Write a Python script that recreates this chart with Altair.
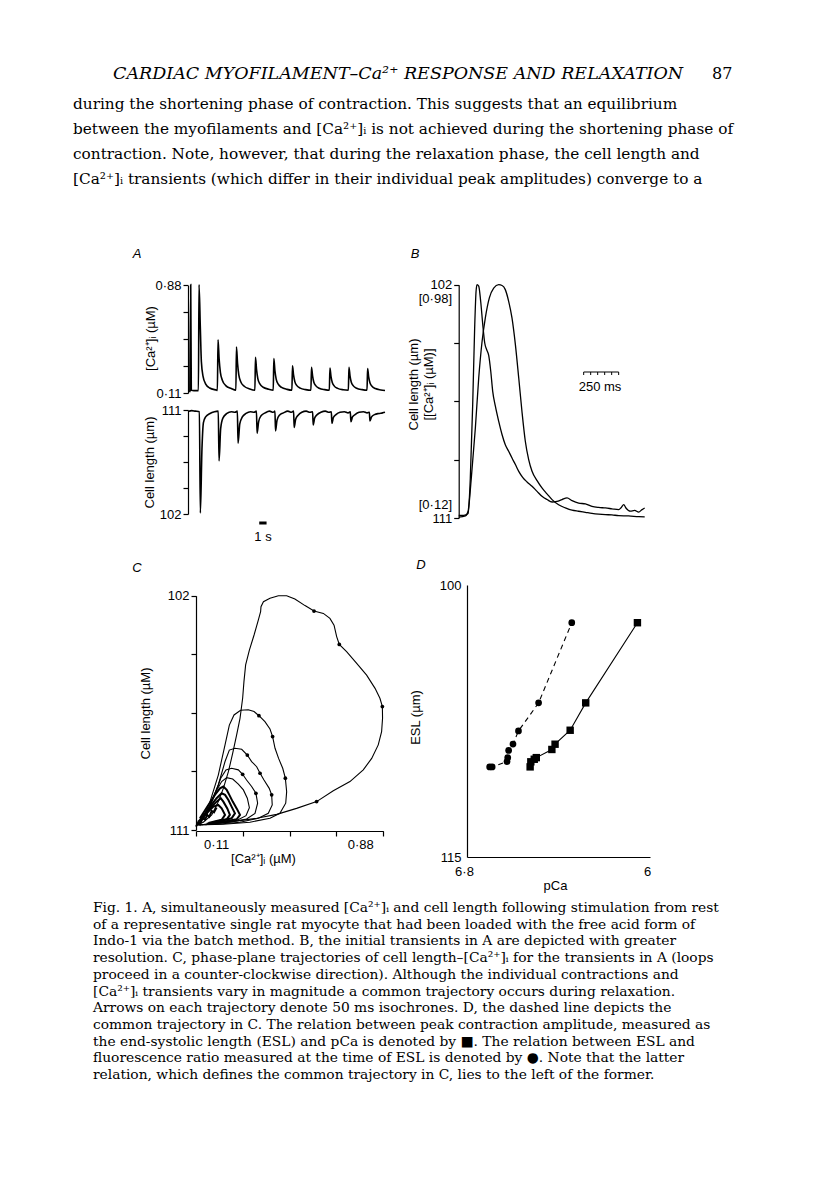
import altair as alt
import pandas as pd

# ---------------------------------------------------------------- page text
HEADER = "CARDIAC MYOFILAMENT–Ca²⁺ RESPONSE AND RELAXATION"
PAGE_NO = "87"
BODY = [
    "during the shortening phase of contraction. This suggests that an equilibrium",
    "between the myofilaments and [Ca²⁺]ᵢ is not achieved during the shortening phase of",
    "contraction. Note, however, that during the relaxation phase, the cell length and",
    "[Ca²⁺]ᵢ transients (which differ in their individual peak amplitudes) converge to a",
]
CAPTION = [
    "Fig. 1. A, simultaneously measured [Ca²⁺]ᵢ and cell length following stimulation from rest",
    "of a representative single rat myocyte that had been loaded with the free acid form of",
    "Indo-1 via the batch method. B, the initial transients in A are depicted with greater",
    "resolution. C, phase-plane trajectories of cell length–[Ca²⁺]ᵢ for the transients in A (loops",
    "proceed in a counter-clockwise direction). Although the individual contractions and",
    "[Ca²⁺]ᵢ transients vary in magnitude a common trajectory occurs during relaxation.",
    "Arrows on each trajectory denote 50 ms isochrones. D, the dashed line depicts the",
    "common trajectory in C. The relation between peak contraction amplitude, measured as",
    "the end-systolic length (ESL) and pCa is denoted by ■. The relation between ESL and",
    "fluorescence ratio measured at the time of ESL is denoted by ●. Note that the latter",
    "relation, which defines the common trajectory in C, lies to the left of the former.",
]
PANEL_LETTERS = ["A", "B", "C", "D"]

# ---------------------------------------------------------------- panel A (time s, [Ca2+]i uM / cell length um)
A_CA = [
    (0.25, 0.115), (0.37, 0.885), (0.45, 0.130), (0.80, 0.127), (1.42, 0.127),
    (1.50, 0.885), (1.68, 0.574), (1.82, 0.335), (2.05, 0.229), (2.41, 0.174), (2.95, 0.146), (3.86, 0.131),
    (4.00, 0.129), (4.09, 0.491), (4.24, 0.353), (4.41, 0.258), (4.69, 0.200), (5.14, 0.163), (5.89, 0.142),
    (6.52, 0.130), (6.60, 0.439), (6.75, 0.320), (6.92, 0.239), (7.20, 0.189), (7.65, 0.158), (8.40, 0.139),
    (9.11, 0.130), (9.19, 0.365), (9.34, 0.275), (9.51, 0.213), (9.79, 0.175), (10.24, 0.151), (10.99, 0.137),
    (11.61, 0.130), (11.69, 0.356), (11.84, 0.269), (12.01, 0.209), (12.29, 0.173), (12.74, 0.150), (13.49, 0.136),
    (14.15, 0.130), (14.23, 0.305), (14.38, 0.237), (14.55, 0.191), (14.83, 0.163), (15.28, 0.145), (16.03, 0.134),
    (16.74, 0.130), (16.82, 0.294), (16.97, 0.231), (17.14, 0.187), (17.42, 0.161), (17.87, 0.144), (18.62, 0.134),
    (19.25, 0.130), (19.33, 0.289), (19.48, 0.227), (19.65, 0.185), (19.93, 0.159), (20.38, 0.143), (21.13, 0.133),
    (21.84, 0.130), (21.92, 0.294), (22.07, 0.231), (22.24, 0.187), (22.52, 0.161), (22.97, 0.144), (23.72, 0.134),
    (24.38, 0.130), (24.46, 0.284), (24.61, 0.224), (24.78, 0.183), (25.06, 0.158), (25.51, 0.142), (26.26, 0.132),
    (26.83, 0.128),
]
A_LEN = [
    (0.10, 110.90), (0.50, 110.95), (1.00, 110.90), (1.55, 110.85),
    (1.68, 102.09), (1.90, 107.60), (2.10, 109.90), (2.40, 110.40), (3.00, 110.70), (3.60, 110.85), (4.12, 110.90),
    (4.23, 106.60), (4.45, 109.40), (4.75, 110.30), (5.30, 110.70), (5.90, 110.85), (6.40, 110.80), (6.72, 110.90),
    (6.82, 108.13), (7.05, 109.80), (7.40, 110.40), (7.90, 110.70), (8.50, 110.85), (9.00, 110.80), (9.32, 110.90),
    (9.41, 108.99), (9.62, 110.00), (9.95, 110.50), (10.50, 110.75), (11.10, 110.90), (11.60, 110.80), (11.84, 110.90),
    (11.92, 109.19), (12.12, 110.10), (12.45, 110.55), (13.00, 110.75), (13.60, 110.90), (14.10, 110.80), (14.38, 110.90),
    (14.46, 109.48), (14.66, 110.20), (15.00, 110.55), (15.50, 110.80), (16.10, 110.90), (16.60, 110.80), (16.97, 110.85),
    (17.05, 109.71), (17.25, 110.30), (17.60, 110.60), (18.10, 110.80), (18.70, 110.90), (19.20, 110.80), (19.52, 110.85),
    (19.60, 109.85), (19.80, 110.35), (20.15, 110.60), (20.70, 110.80), (21.30, 110.85), (21.80, 110.75), (22.10, 110.85),
    (22.19, 109.99), (22.40, 110.40), (22.75, 110.60), (23.30, 110.80), (23.90, 110.85), (24.40, 110.75), (24.70, 110.80),
    (24.78, 110.05), (25.00, 110.40), (25.40, 110.60), (26.00, 110.70), (26.50, 110.75), (26.83, 110.80),
]
A_BAR = (9.7, 10.7)  # 1 s

# ---------------------------------------------------------------- panel B (time ms)
B_CA = [
    (0, 0.130), (36, 0.130), (67, 0.137), (83, 0.267), (100, 0.538), (114, 0.820), (124, 0.955), (131, 0.980),
    (143, 0.975), (157, 0.919), (172, 0.833), (186, 0.765), (200, 0.740), (214, 0.720), (229, 0.661), (243, 0.587),
    (262, 0.532), (286, 0.476), (310, 0.427), (333, 0.390), (357, 0.366), (381, 0.341), (405, 0.317), (429, 0.292),
    (457, 0.270), (488, 0.253), (524, 0.237), (560, 0.218), (595, 0.200), (631, 0.188), (667, 0.179), (702, 0.181),
    (738, 0.188), (774, 0.194), (810, 0.184), (857, 0.175), (905, 0.172), (952, 0.163), (1000, 0.159), (1048, 0.157),
    (1095, 0.154), (1143, 0.151), (1162, 0.159), (1179, 0.169), (1195, 0.157), (1226, 0.145), (1257, 0.148),
    (1286, 0.142), (1310, 0.151), (1329, 0.157),
]
B_LEN = [
    (0, 110.97), (48, 110.92), (67, 110.74), (90, 109.46), (119, 107.53), (143, 105.60), (167, 104.19), (190, 103.29),
    (219, 102.51), (250, 102.13), (286, 102.00), (310, 102.03), (333, 102.19), (357, 102.64), (381, 103.29),
    (405, 104.31), (429, 105.60), (452, 106.89), (476, 108.04), (500, 108.75), (524, 109.20), (560, 109.56),
    (595, 109.84), (631, 110.07), (667, 110.29), (714, 110.49), (762, 110.61), (810, 110.70), (857, 110.74),
    (905, 110.78), (952, 110.82), (1000, 110.85), (1048, 110.87), (1095, 110.88), (1143, 110.91), (1214, 110.92),
    (1286, 110.95), (1329, 110.96),
]
B_BAR = (893, 1143)  # 250 ms
B_BAR_TICKS = [893, 943, 993, 1043, 1093, 1143]

# ---------------------------------------------------------------- panel C ([Ca2+]i uM, cell length um)
C_BIG = [
    (0.004, 110.81), (0.057, 110.78), (0.146, 110.72), (0.235, 110.64), (0.324, 110.55), (0.431, 110.40),
    (0.537, 110.17), (0.644, 109.91), (0.733, 109.49), (0.822, 109.14), (0.893, 108.69), (0.938, 108.25),
    (0.973, 107.73), (0.991, 107.22), (0.996, 106.71), (0.995, 106.26), (0.982, 105.94), (0.956, 105.56),
    (0.911, 105.05), (0.858, 104.60), (0.804, 104.15), (0.765, 103.87), (0.751, 103.57), (0.737, 103.13),
    (0.715, 102.87), (0.680, 102.68), (0.630, 102.59), (0.582, 102.38), (0.528, 102.13), (0.484, 102.00),
    (0.440, 102.00), (0.395, 102.10), (0.360, 102.23), (0.347, 102.42), (0.345, 102.61), (0.333, 102.93),
    (0.310, 103.51), (0.285, 104.09), (0.265, 104.66), (0.256, 105.30), (0.249, 105.94), (0.235, 106.71),
    (0.217, 107.35), (0.196, 108.05), (0.173, 108.76), (0.146, 109.40), (0.119, 109.91), (0.084, 110.42),
    (0.039, 110.70), (0.004, 110.81),
]
C_L2 = [
    (0.004, 110.81), (0.039, 110.55), (0.075, 109.91), (0.119, 108.89), (0.155, 107.73), (0.178, 106.97),
    (0.203, 106.58), (0.238, 106.40), (0.279, 106.38), (0.310, 106.45), (0.336, 106.61), (0.368, 106.84),
    (0.395, 107.12), (0.409, 107.41), (0.422, 107.86), (0.441, 108.25), (0.463, 108.63), (0.477, 109.01),
    (0.484, 109.53), (0.479, 109.97), (0.448, 110.36), (0.395, 110.55), (0.288, 110.70), (0.146, 110.78),
    (0.004, 110.81),
]
C_L3 = [
    (0.021, 110.68), (0.075, 110.04), (0.119, 109.27), (0.155, 108.37), (0.178, 107.93), (0.208, 107.86),
    (0.244, 107.90), (0.274, 108.12), (0.297, 108.37), (0.324, 108.57), (0.342, 108.82), (0.363, 109.08),
    (0.391, 109.40), (0.404, 109.65), (0.407, 110.04), (0.386, 110.36), (0.333, 110.55), (0.235, 110.70),
    (0.110, 110.78), (0.021, 110.80),
]
C_L4 = [
    (0.039, 110.61), (0.093, 109.78), (0.132, 109.01), (0.160, 108.69), (0.190, 108.63), (0.226, 108.69),
    (0.249, 108.86), (0.270, 109.08), (0.297, 109.33), (0.320, 109.59), (0.329, 109.97), (0.315, 110.36),
    (0.270, 110.58), (0.181, 110.70), (0.075, 110.76), (0.030, 110.80),
]
C_L5 = [
    (0.057, 110.42), (0.101, 109.59), (0.137, 109.14), (0.164, 108.99), (0.196, 109.04), (0.226, 109.24),
    (0.253, 109.46), (0.274, 109.78), (0.285, 110.14), (0.267, 110.45), (0.217, 110.63), (0.128, 110.73),
    (0.050, 110.80),
]
C_L6 = [
    (0.021, 110.55), (0.066, 110.04), (0.101, 109.65), (0.128, 109.40), (0.146, 109.33), (0.164, 109.46),
    (0.178, 109.65), (0.196, 109.91), (0.217, 110.17), (0.235, 110.42), (0.217, 110.59), (0.146, 110.68),
    (0.057, 110.76),
]
C_L7 = [
    (0.030, 110.55), (0.075, 110.10), (0.110, 109.78), (0.137, 109.59), (0.155, 109.65), (0.173, 109.85),
    (0.190, 110.10), (0.208, 110.36), (0.190, 110.55), (0.110, 110.68),
]
C_L8 = [
    (0.021, 110.61), (0.066, 110.23), (0.110, 109.91), (0.132, 109.78), (0.146, 109.91), (0.167, 110.17),
    (0.181, 110.42), (0.164, 110.59), (0.093, 110.70),
]
C_L9 = [
    (0.012, 110.68), (0.057, 110.36), (0.093, 110.10), (0.119, 110.04), (0.137, 110.17), (0.155, 110.42),
    (0.137, 110.61), (0.066, 110.73),
]
C_JAG = [
    (0.000, 110.87), (0.012, 110.70), (0.021, 110.78), (0.036, 110.55), (0.048, 110.61), (0.060, 110.42),
    (0.071, 110.49), (0.084, 110.27), (0.096, 110.32), (0.110, 110.14),
]
C_DOTS = [
    (0.630, 102.59), (0.765, 103.87), (0.995, 106.26), (0.644, 109.91), (0.336, 106.61), (0.409, 107.41),
    (0.477, 109.01), (0.274, 108.12), (0.342, 108.82), (0.404, 109.65), (0.249, 108.86), (0.320, 109.59),
]
C_XLABELS = [(0.11, "0·11"), (0.88, "0·88")]

# ---------------------------------------------------------------- panel D (pCa, ESL um)
D_SQ = [
    (6.524, 110.03), (6.521, 109.75), (6.506, 109.61), (6.497, 109.52), (6.429, 109.07), (6.415, 108.78),
    (6.349, 108.01), (6.281, 106.50), (6.055, 102.08),
]
D_CI = [
    (6.701, 110.03), (6.690, 110.03), (6.625, 109.74), (6.622, 109.52), (6.618, 109.12), (6.599, 108.77),
    (6.575, 108.05), (6.487, 106.50), (6.342, 102.08),
]

# ================================================================ layout
MARGIN = 8
PAGE_W, PAGE_H = 800, 1167
SANS = "Liberation Sans"
SERIF = "DejaVu Serif"
FS = 13


def p(v):
    return v - MARGIN


def lin(domain, r0, r1):
    return alt.Scale(domain=domain, range=[p(r0), p(r1)], nice=False, zero=False)


def frame(pairs, a="x", b="y"):
    return pd.DataFrame({a: [q[0] for q in pairs], b: [q[1] for q in pairs], "seq": list(range(len(pairs)))})


def yaxis(at, values, expr, title, tx, ty, tick=5, pad=2):
    return alt.Axis(orient="left", offset=-p(at), values=values, labelExpr=expr, tickSize=tick,
                    labelPadding=pad, title=title, titleX=tx, titleY=p(ty), titleAngle=270,
                    titleBaseline="middle", titleAlign="center", labelOverlap=False, labelFlush=False,
                    labelBaseline="middle", titleLineHeight=15)


ONE = pd.DataFrame({"k": [0]})


def text_at(txt, x, y, size=FS, font=SANS, style="normal", align="left", baseline="alphabetic", lh=None):
    kw = dict(text=txt, font=font, fontSize=size, fontStyle=style, align=align, baseline=baseline, color="black")
    if lh:
        kw["lineHeight"] = lh
    return alt.Chart(ONE).mark_text(**kw).encode(x=alt.value(p(x)), y=alt.value(p(y)))


layers = []

# ---- page text
layers.append(text_at(HEADER, 113, 79, size=17.5, font=SERIF, style="italic"))
layers.append(text_at(PAGE_NO, 712, 79, size=16, font=SERIF))
layers.append(text_at(BODY, 73, 109, size=15.3, font=SERIF, lh=25))
layers.append(text_at(CAPTION, 93, 912, size=13.8, font=SERIF, lh=16.7))
for letter, (lx, ly) in zip(PANEL_LETTERS, [(137, 254), (415, 254), (137, 568), (421, 565)]):
    layers.append(text_at(letter, lx, ly, size=13, style="italic", align="center", baseline="middle"))

# ---- panel A
XA = lin([0, 26.83], 188, 385)
YA_CA = lin([0.11, 0.88], 393, 285.3)
YA_LEN = lin([102, 111], 514, 410)
TICK5_LEN = [102, 104.25, 106.5, 108.75, 111]
LEN_EXPR = "datum.value < 103 ? '102' : (datum.value > 110 ? '111' : '')"

layers.append(alt.Chart(frame(A_CA, "t", "v")).mark_line(color="black", strokeWidth=1.6,
                                                         interpolate="monotone").encode(
    x=alt.X("t:Q", scale=XA, axis=None),
    y=alt.Y("v:Q", scale=YA_CA, axis=yaxis(188, [0.11, 0.3025, 0.495, 0.6875, 0.88],
            "datum.value < 0.2 ? '0·11' : (datum.value > 0.8 ? '0·88' : '')",
            "[Ca²⁺]ᵢ (µM)", -38, 338)),
    order="seq:Q"))
layers.append(alt.Chart(frame(A_LEN, "t", "v")).mark_line(color="black", strokeWidth=1.6,
                                                          interpolate="monotone").encode(
    x=alt.X("t:Q", scale=XA, axis=None),
    y=alt.Y("v:Q", scale=YA_LEN, axis=yaxis(188, TICK5_LEN, LEN_EXPR, "Cell length (µm)", -39, 462)),
    order="seq:Q"))
layers.append(alt.Chart(pd.DataFrame({"t": [A_BAR[0]], "t2": [A_BAR[1]]})).mark_rule(
    color="black", strokeWidth=3).encode(
    x=alt.X("t:Q", scale=XA, axis=None), x2="t2:Q", y=alt.value(p(523))))
layers.append(text_at("1 s", 263, 537, align="center", baseline="middle"))

# ---- panel B
XB = lin([0, 1329], 458.7, 644.7)
YB_LEN = lin([102, 111], 284.7, 518)
YB_CA = lin([0.98, 0.12], 284.7, 518)
layers.append(alt.Chart(frame(B_LEN, "t", "v")).mark_line(color="black", strokeWidth=1.3,
                                                          interpolate="monotone").encode(
    x=alt.X("t:Q", scale=XB, axis=None),
    y=alt.Y("v:Q", scale=YB_LEN, axis=yaxis(458.7, TICK5_LEN, LEN_EXPR,
            ["Cell length (µm)", "[[Ca²⁺]ᵢ (µM)]"], -45, 384)),
    order="seq:Q"))
layers.append(alt.Chart(frame(B_CA, "t", "v")).mark_line(color="black", strokeWidth=1.3,
                                                         interpolate="monotone").encode(
    x=alt.X("t:Q", scale=XB, axis=None),
    y=alt.Y("v:Q", scale=YB_CA, axis=None),
    order="seq:Q"))
for val, lab, dy in [(102, "[0·98]", 14), (111, "[0·12]", -13)]:
    layers.append(alt.Chart(pd.DataFrame({"v": [val], "lab": [lab]})).mark_text(
        font=SANS, fontSize=FS, align="right", baseline="middle", dy=dy, color="black").encode(
        x=alt.value(p(452)), y=alt.Y("v:Q", scale=YB_LEN, axis=None), text="lab:N"))
layers.append(alt.Chart(pd.DataFrame({"t": [B_BAR[0]], "t2": [B_BAR[1]]})).mark_rule(
    color="black", strokeWidth=1.2).encode(
    x=alt.X("t:Q", scale=XB, axis=None), x2="t2:Q", y=alt.value(p(372))))
layers.append(alt.Chart(pd.DataFrame({"t": B_BAR_TICKS})).mark_rule(color="black", strokeWidth=1).encode(
    x=alt.X("t:Q", scale=XB, axis=None), y=alt.value(p(372)), y2=alt.value(p(375))))
layers.append(text_at("250 ms", 600, 387, align="center", baseline="middle"))

# ---- panel C
XC = lin([0, 1], 196, 383.3)
YC = lin([102, 111], 595.7, 830)
C_LOOPS_LARGE = [C_BIG, C_L2, C_L3, C_L4, C_L5]
C_LOOPS_SMALL = [C_L6, C_L7, C_L8, C_L9, C_JAG]


def loops_frame(loops):
    rows = []
    for i, loop in enumerate(loops):
        for j, (cx, cy) in enumerate(loop):
            rows.append({"loop": i, "seq": j, "ca": cx, "len": cy})
    return pd.DataFrame(rows)


layers.append(alt.Chart(loops_frame(C_LOOPS_LARGE)).mark_line(color="black", strokeWidth=1.1).encode(
    x=alt.X("ca:Q", scale=XC, axis=alt.Axis(
        orient="bottom", offset=p(831) - PAGE_H, values=[0, 0.25, 0.5, 0.75, 1.0], labels=False,
        tickSize=5, title="[Ca²⁺]ᵢ (µM)", titleX=p(263), titleY=27, titleBaseline="middle")),
    y=alt.Y("len:Q", scale=YC, axis=yaxis(196, TICK5_LEN, LEN_EXPR, "Cell length (µM)", -51, 713)),
    detail="loop:N", order="seq:Q"))
layers.append(alt.Chart(loops_frame(C_LOOPS_SMALL)).mark_line(color="black", strokeWidth=2.0).encode(
    x=alt.X("ca:Q", scale=XC, axis=None), y=alt.Y("len:Q", scale=YC, axis=None),
    detail="loop:N", order="seq:Q"))
layers.append(alt.Chart(frame(C_DOTS, "ca", "len")).mark_circle(color="black", size=14, opacity=1).encode(
    x=alt.X("ca:Q", scale=XC, axis=None), y=alt.Y("len:Q", scale=YC, axis=None)))
layers.append(alt.Chart(pd.DataFrame({"ca": [q[0] for q in C_XLABELS], "lab": [q[1] for q in C_XLABELS]}))
              .mark_text(font=SANS, fontSize=FS, align="center", baseline="middle", color="black").encode(
    x=alt.X("ca:Q", scale=XC, axis=None), y=alt.value(p(845)), text="lab:N"))

# ---- panel D
XD = lin([6.0, 6.8], 650, 467)
YD = lin([100, 115], 585, 857)
layers.append(alt.Chart(frame(D_SQ, "pca", "esl")).mark_line(color="black", strokeWidth=1.1).encode(
    x=alt.X("pca:Q", scale=XD, axis=alt.Axis(
        orient="bottom", offset=p(857) - PAGE_H, values=[6.0, 6.8],
        labelExpr="datum.value > 6.5 ? '6·8' : '6'", tickSize=0, labelPadding=8, labelOffset=-3,
        labelFlush=False, labelOverlap=False, title="pCa", titleX=p(555), titleY=28, titleBaseline="middle")),
    y=alt.Y("esl:Q", scale=YD, axis=alt.Axis(
        orient="left", offset=-p(467), values=[100, 115], format="d", tickSize=0, labelPadding=6,
        labelFlush=False, labelOverlap=False, labelBaseline="middle", title="ESL (µm)", titleX=-52,
        titleY=p(717), titleAngle=270, titleBaseline="middle", titleAlign="center")),
    order="seq:Q"))
layers.append(alt.Chart(frame(D_SQ, "pca", "esl")).mark_square(color="black", size=55, opacity=1).encode(
    x=alt.X("pca:Q", scale=XD, axis=None), y=alt.Y("esl:Q", scale=YD, axis=None)))
layers.append(alt.Chart(frame(D_CI, "pca", "esl")).mark_line(color="black", strokeWidth=1.1,
                                                             strokeDash=[5, 4]).encode(
    x=alt.X("pca:Q", scale=XD, axis=None), y=alt.Y("esl:Q", scale=YD, axis=None), order="seq:Q"))
layers.append(alt.Chart(frame(D_CI, "pca", "esl")).mark_circle(color="black", size=45, opacity=1).encode(
    x=alt.X("pca:Q", scale=XD, axis=None), y=alt.Y("esl:Q", scale=YD, axis=None)))

chart = (
    alt.layer(*layers)
    .resolve_scale(x="independent", y="independent")
    .resolve_axis(x="independent", y="independent")
    .properties(width=PAGE_W, height=PAGE_H, autosize=alt.AutoSizeParams(type="none"), padding=0,
                background="white")
    .configure_view(stroke=None)
    .configure_axis(grid=False, domainColor="black", tickColor="black", labelColor="black", titleColor="black",
                    labelFont=SANS, titleFont=SANS, labelFontSize=FS, titleFontSize=FS, titleFontWeight="normal",
                    domainWidth=1.2, tickWidth=1.2)
)
chart.save("out.html", embed_options={"renderer": "svg", "actions": False})
